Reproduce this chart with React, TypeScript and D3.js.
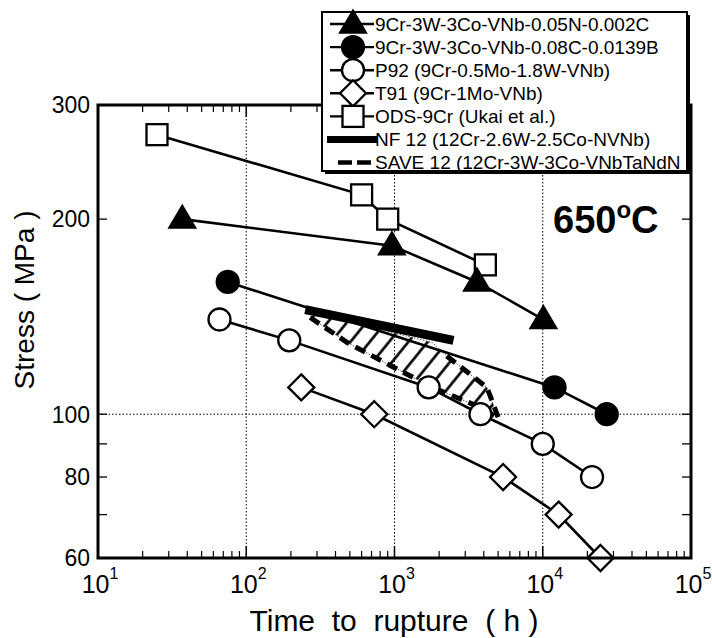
import React from "react";
import * as d3 from "d3";

// ---- data ----
const triT = [37, 960, 3600, 10100];
const triS = [200, 182, 160, 140];
const dotT = [75, 12000, 27000];
const dotS = [160, 110, 100];
const p92T = [66, 195, 1700, 3800, 10000, 21500];
const p92S = [140, 130, 110, 100, 90, 80];
const t91T = [235, 730, 5400, 12800, 24500];
const t91S = [110, 100, 80, 70, 60];
const odsT = [25, 600, 900, 4100];
const odsS = [270, 218, 200, 170];
const nf12T = [250, 2500];
const nf12S = [145, 130];
const saveLowT = [270, 480, 930, 1800, 3600, 4900];
const saveLowS = [141, 129, 119, 110, 103, 99];
const saveUpT = [300, 930, 1800, 2250, 4200, 5000];
const saveUpS = [143, 134, 129, 123, 110, 99];

const legendLabels = [
  "9Cr-3W-3Co-VNb-0.05N-0.002C",
  "9Cr-3W-3Co-VNb-0.08C-0.0139B",
  "P92 (9Cr-0.5Mo-1.8W-VNb)",
  "T91 (9Cr-1Mo-VNb)",
  "ODS-9Cr (Ukai et al.)",
  "NF 12 (12Cr-2.6W-2.5Co-NVNb)",
  "SAVE 12 (12Cr-3W-3Co-VNbTaNdN",
];
const yTickLabels = [60, 80, 100, 200, 300];
const yTicks = [70, 80, 90, 100, 200];
const xMajor = [1e1, 1e2, 1e3, 1e4, 1e5];
const xExp = ["1", "2", "3", "4", "5"];

const FONT = "'Liberation Sans', Arial, Helvetica, sans-serif";

const L = 98, R = 691, T = 105, B = 558;
const x = d3.scaleLog().domain([10, 1e5]).range([L, R]);
const y = d3.scaleLog().domain([60, 300]).range([B, T]);

type Kind = "tri" | "dot" | "circ" | "dia" | "sq";

function Marker({ kind, cx, cy }: { kind: Kind; cx: number; cy: number }) {
  const sw = 2.3;
  if (kind === "dot" || kind === "circ")
    return <circle cx={cx} cy={cy} r={11} fill={kind === "dot" ? "#000" : "#fff"} stroke="#000" strokeWidth={sw} />;
  if (kind === "dia") {
    const h = 13;
    return <polygon points={`${cx},${cy - h} ${cx + h},${cy} ${cx},${cy + h} ${cx - h},${cy}`} fill="#fff" stroke="#000" strokeWidth={sw} />;
  }
  if (kind === "sq") {
    const h = 10.5;
    return <rect x={cx - h} y={cy - h} width={2 * h} height={2 * h} fill="#fff" stroke="#000" strokeWidth={sw} />;
  }
  const w = 13.5;
  return <polygon points={`${cx},${cy - 14} ${cx + w},${cy + 9} ${cx - w},${cy + 9}`} fill="#000" stroke="#000" strokeWidth={1.5} />;
}

const line = d3
  .line<[number, number]>()
  .x((d) => x(d[0]))
  .y((d) => y(d[1]));

const zip = (a: number[], b: number[]) => a.map((v, i) => [v, b[i]] as [number, number]);

const series: { kind: Kind; t: number[]; s: number[] }[] = [
  { kind: "sq", t: odsT, s: odsS },
  { kind: "tri", t: triT, s: triS },
  { kind: "dot", t: dotT, s: dotS },
  { kind: "circ", t: p92T, s: p92S },
  { kind: "dia", t: t91T, s: t91S },
];

export default function App() {
  const minorX: number[] = [];
  for (let e = 1; e < 5; e++) for (let k = 2; k <= 9; k++) minorX.push(k * Math.pow(10, e));

  const lowPts = zip(saveLowT, saveLowS);
  const upPts = zip(saveUpT, saveUpS);
  const poly = [...lowPts, ...upPts.slice().reverse()];
  const polyPath = line(poly) + "Z";

  const legX = 322, legY = 12, legW = 365, legH = 159;
  const rowY = (i: number) => 24 + i * 23.1;
  const kinds: Kind[] = ["tri", "dot", "circ", "dia", "sq"];

  return (
    <svg width={712} height={638} style={{ position: "absolute", left: 0, top: 0, background: "#fff" }} fontFamily={FONT}>
      <defs>
        <pattern id="hatch" width={15} height={15} patternUnits="userSpaceOnUse" patternTransform="rotate(39)">
          <line x1={7.5} y1={0} x2={7.5} y2={15} stroke="#000" strokeWidth={2.6} />
        </pattern>
      </defs>
      <rect width={712} height={638} fill="#fff" />

      {/* gridlines */}
      {[1e2, 1e3, 1e4].map((v) => (
        <line key={v} x1={x(v)} x2={x(v)} y1={T} y2={B} stroke="#000" strokeWidth={1} strokeDasharray="1.5,2" />
      ))}
      <line x1={L} x2={R} y1={y(100)} y2={y(100)} stroke="#000" strokeWidth={1} strokeDasharray="1.5,2" />

      {/* ticks */}
      {minorX.map((v) => (
        <g key={v}>
          <line x1={x(v)} x2={x(v)} y1={B} y2={B - 7} stroke="#000" strokeWidth={1.2} />
          <line x1={x(v)} x2={x(v)} y1={T} y2={T + 7} stroke="#000" strokeWidth={1.2} />
        </g>
      ))}
      {[1e2, 1e3, 1e4].map((v) => (
        <g key={v}>
          <line x1={x(v)} x2={x(v)} y1={B} y2={B - 12} stroke="#000" strokeWidth={1.5} />
          <line x1={x(v)} x2={x(v)} y1={T} y2={T + 12} stroke="#000" strokeWidth={1.5} />
        </g>
      ))}
      {yTicks.map((v) => (
        <g key={v}>
          <line x1={L} x2={L + 9} y1={y(v)} y2={y(v)} stroke="#000" strokeWidth={1.3} />
          <line x1={R} x2={R - 9} y1={y(v)} y2={y(v)} stroke="#000" strokeWidth={1.3} />
        </g>
      ))}

      {/* SAVE 12 hatched band */}
      <path d={polyPath} fill="url(#hatch)" stroke="#555" strokeWidth={1} strokeDasharray="1.5,1.5" />
      <path d={line(lowPts) || ""} fill="none" stroke="#000" strokeWidth={5} strokeDasharray="11,7" />
      <path d={line(upPts.slice(3)) || ""} fill="none" stroke="#000" strokeWidth={5} strokeDasharray="11,7" />

      {/* series lines */}
      {series.map((sr) => (
        <path key={sr.kind} d={line(zip(sr.t, sr.s)) || ""} fill="none" stroke="#000" strokeWidth={2.6} />
      ))}

      {/* NF 12 */}
      <path d={line(zip(nf12T, nf12S)) || ""} fill="none" stroke="#000" strokeWidth={9} />

      {/* markers */}
      {series.map((sr) =>
        sr.t.map((t, i) => <Marker key={sr.kind + i} kind={sr.kind} cx={x(t)} cy={y(sr.s[i])} />)
      )}

      {/* frame */}
      <rect x={L} y={T} width={R - L} height={B - T} fill="none" stroke="#000" strokeWidth={3} />

      {/* y tick labels */}
      {yTickLabels.map((v) => (
        <text key={v} x={90} y={y(v)} dy="0.36em" textAnchor="end" fontSize={23}>
          {v}
        </text>
      ))}
      {/* x tick labels */}
      {xMajor.map((v, i) => (
        <text key={v} x={x(v) + 2} y={593} textAnchor="middle" fontSize={25}>
          10
          <tspan fontSize={16} dy={-14}>
            {xExp[i]}
          </tspan>
        </text>
      ))}

      {/* axis titles */}
      <text x={394} y={631} textAnchor="middle" fontSize={30} style={{ whiteSpace: "pre" }}>
        {"Time  to  rupture  ( h )"}
      </text>
      <text transform={`translate(34,300) rotate(-90)`} textAnchor="middle" fontSize={28} style={{ whiteSpace: "pre" }}>
        {"Stress ( MPa )"}
      </text>

      {/* temperature */}
      <text x={553} y={233} fontSize={38} fontWeight="bold">
        650
        <tspan fontSize={24} dy={-15}>o</tspan>
        <tspan dy={15}>C</tspan>
      </text>

      {/* legend */}
      <rect x={legX + 3} y={legY + 3} width={legW} height={legH} fill="#000" />
      <rect x={legX} y={legY} width={legW} height={legH} fill="#fff" stroke="#000" strokeWidth={2} />
      {legendLabels.map((lab, i) => {
        const yy = rowY(i);
        return (
          <g key={lab}>
            {i < 5 && (
              <>
                <line x1={legX + 8} x2={legX + 52} y1={yy} y2={yy} stroke="#000" strokeWidth={2.4} />
                <Marker kind={kinds[i]} cx={legX + 31} cy={yy} />
              </>
            )}
            {i === 5 && <line x1={legX + 5} x2={legX + 55} y1={yy} y2={yy} stroke="#000" strokeWidth={7} />}
            {i === 6 && (
              <line x1={legX + 16} x2={legX + 52} y1={yy} y2={yy} stroke="#000" strokeWidth={4.5} strokeDasharray="14,5" />
            )}
            <text x={legX + 53} y={yy} dy="0.36em" fontSize={19}>
              {lab}
            </text>
          </g>
        );
      })}
    </svg>
  );
}
